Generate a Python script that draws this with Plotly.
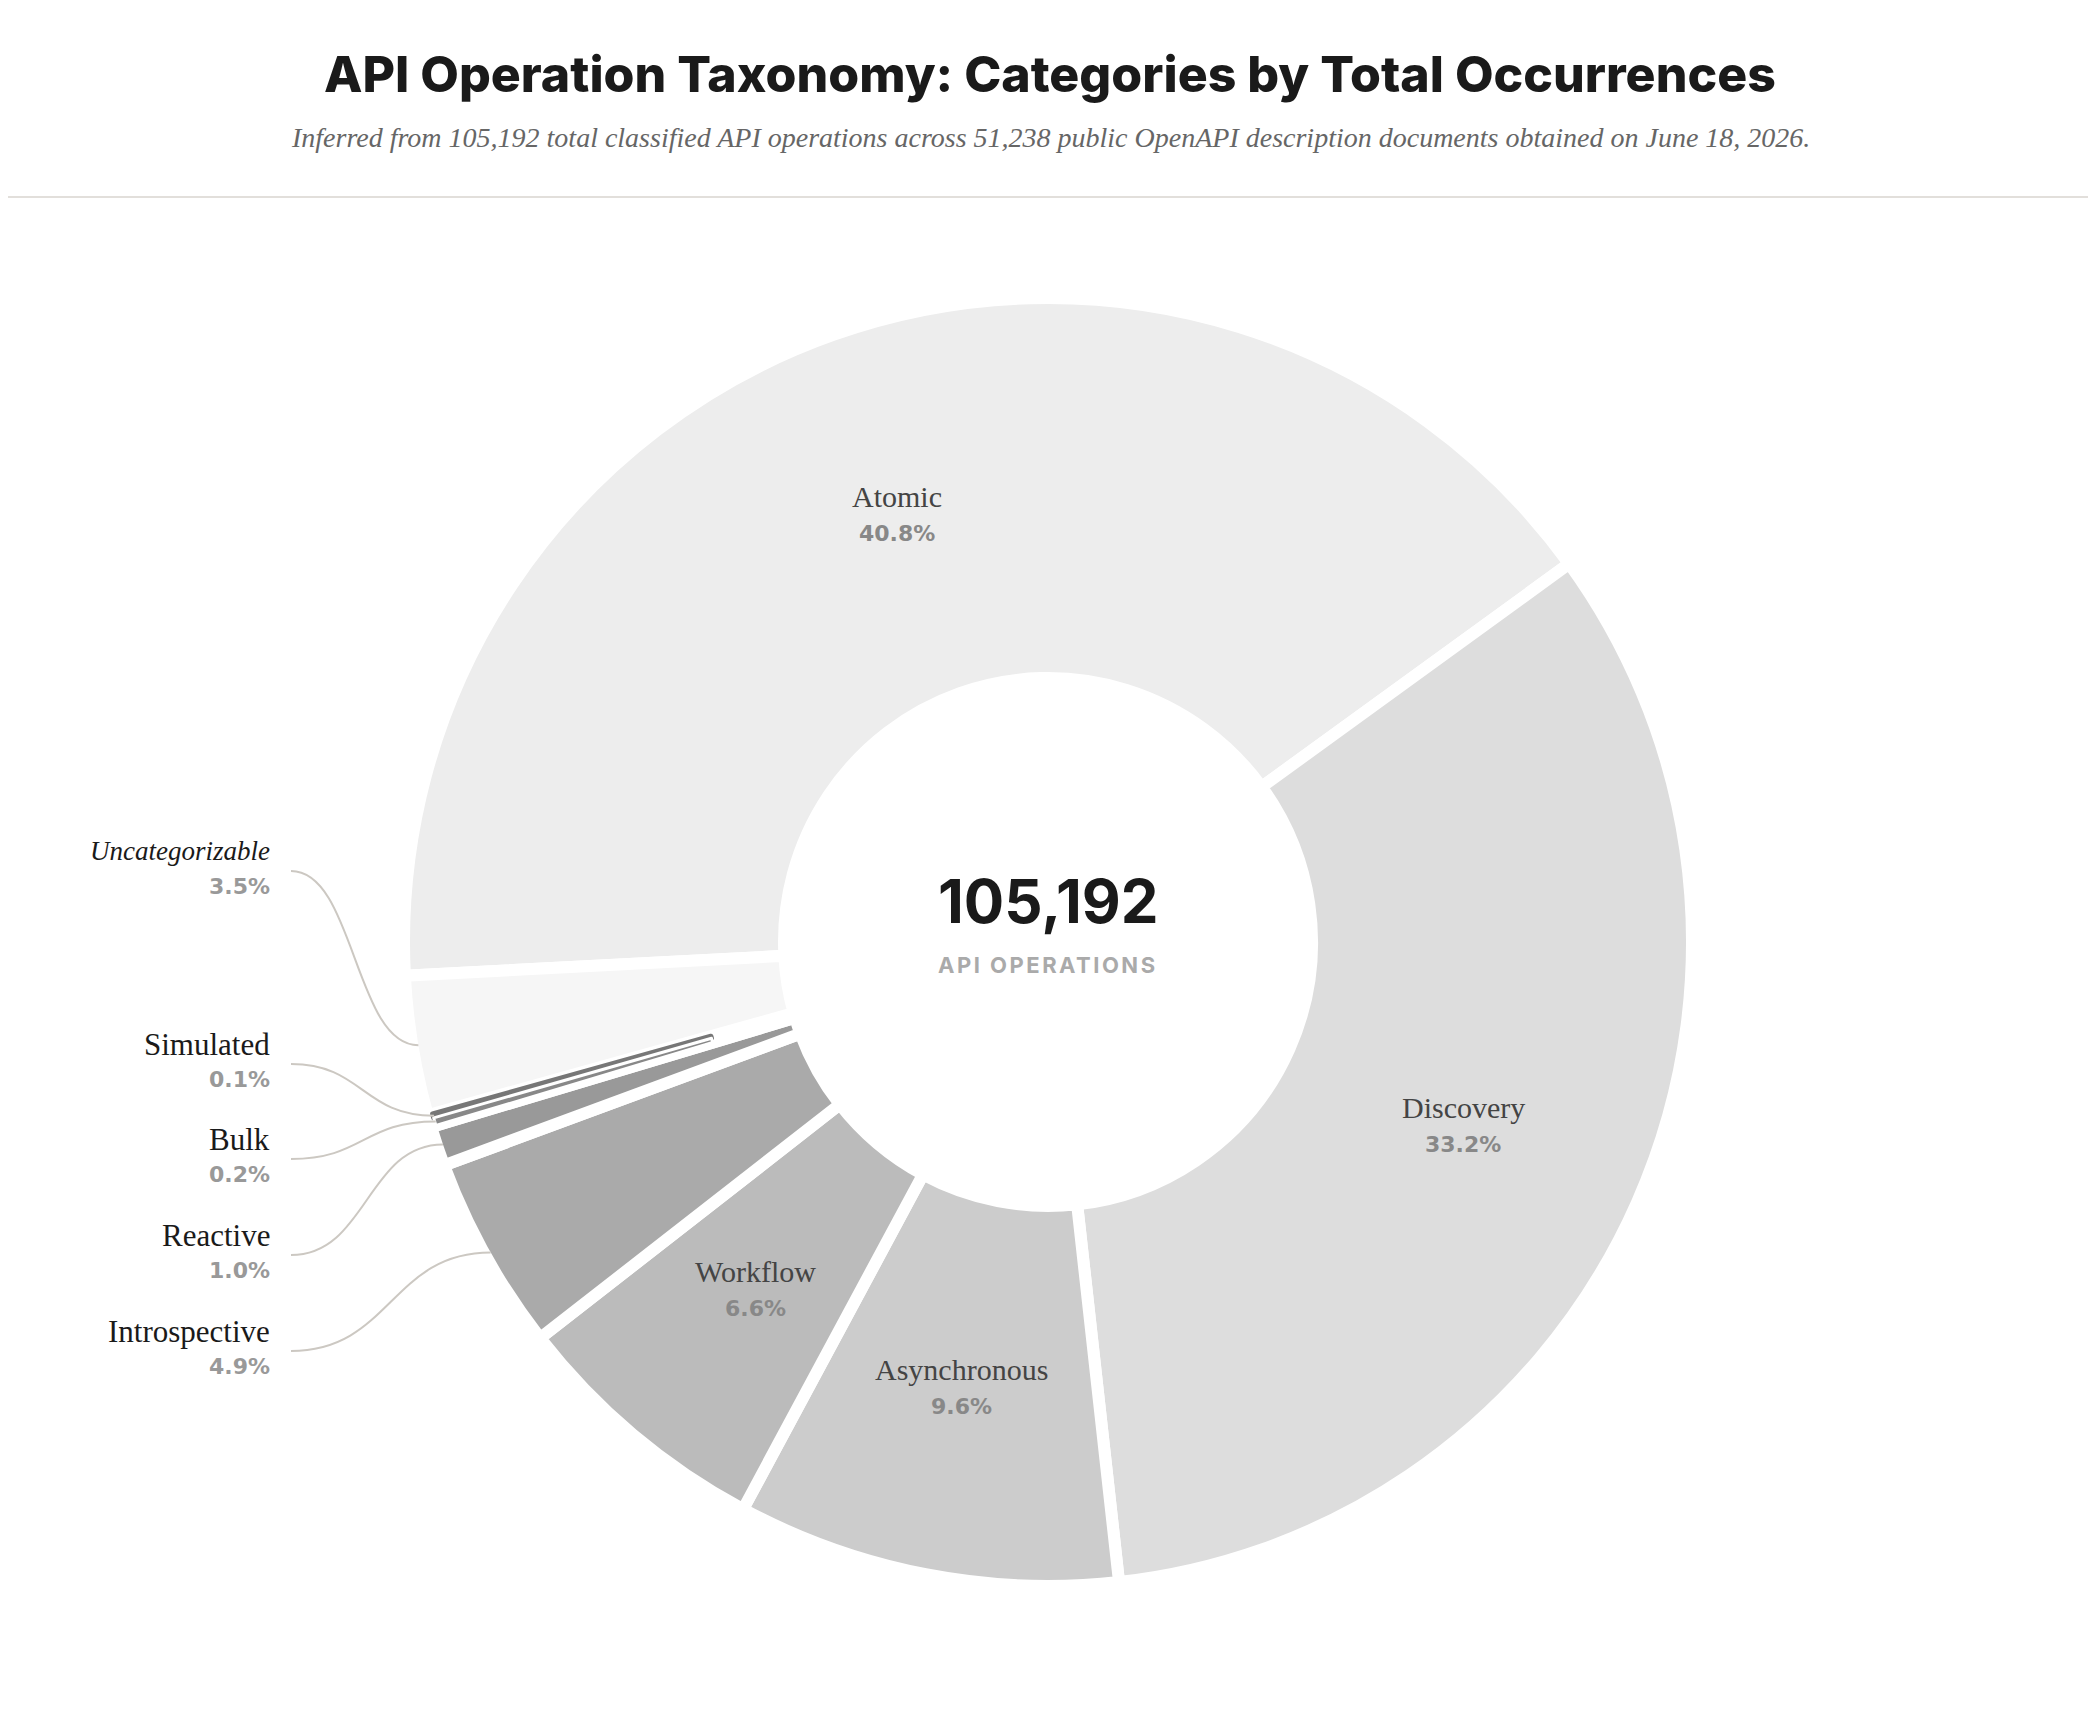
import math
import plotly.graph_objects as go

# ---------------- data ----------------
categories = ["Atomic", "Discovery", "Asynchronous", "Workflow", "Introspective",
              "Reactive", "Bulk", "Simulated", "Uncategorizable"]
shares = [40.8, 33.2, 9.6, 6.6, 4.9, 1.0, 0.2, 0.1, 3.5]
pct_labels = ["40.8%", "33.2%", "9.6%", "6.6%", "4.9%", "1.0%", "0.2%", "0.1%", "3.5%"]
colors = ["#ededed", "#dddddd", "#cccccc", "#bbbbbb", "#aaaaaa",
          "#999999", "#888888", "#777777", "#f6f6f6"]
inside_labels = ["Atomic", "Discovery", "Asynchronous", "Workflow"]
outside_labels = ["Uncategorizable", "Simulated", "Bulk", "Reactive", "Introspective"]
total_text = "105,192"
total_caption = "API OPERATIONS"
title_text = "API Operation Taxonomy: Categories by Total Occurrences"
subtitle_text = ("Inferred from 105,192 total classified API operations across 51,238 public "
                 "OpenAPI description documents obtained on June 18, 2026.")

# ---------------- layout constants (pixels) ----------------
W, H = 2080, 1690
CX, CY = 1040, 934
R_OUT, R_IN = 638, 270
GAP = 12
ROT = 267
LABEL_RIGHT_X = 264
LINE_START_X = 283
outside_name_y = {"Uncategorizable": 843, "Simulated": 1036, "Bulk": 1131,
                  "Reactive": 1227, "Introspective": 1323}

SERIF = "Liberation Serif"
SANS = "Inter"
PCT_FONT = "DejaVu Sans"


def px(x):
    return x / W


def py(y):
    return 1 - y / H


def domain(r):
    return dict(x=[px(CX - r), px(CX + r)], y=[py(CY + r), py(CY - r)])


total = sum(shares)
mid_angles = {}
acc = 0.0
for c, v in zip(categories, shares):
    mid_angles[c] = ROT + (acc + v / 2) / total * 360
    acc += v


def polar(theta, rho):
    t = math.radians(theta)
    return CX + rho * math.sin(t), CY - rho * math.cos(t)


fig = go.Figure()


def pie(r, hole_r, fill, line_colors, line_widths):
    fig.add_trace(go.Pie(
        labels=categories, values=shares, sort=False, direction="clockwise",
        rotation=ROT, hole=hole_r / r, domain=domain(r),
        marker=dict(colors=fill, line=dict(color=line_colors, width=line_widths)),
        textinfo="none", hoverinfo="skip", showlegend=False,
    ))


# main donut with white gaps between slices
r1 = R_OUT + GAP / 2
pie(r1, R_IN - GAP / 2, colors, ["white"] * len(categories), [GAP] * len(categories))

# overlays so the tiniest slices stay visible under the white gaps
clear = "rgba(0,0,0,0)"
r2 = R_OUT + 1
pie(r2, R_IN + 80,
    [col if c == "Simulated" else clear for c, col in zip(categories, colors)],
    [col if c == "Simulated" else clear for c, col in zip(categories, colors)],
    [5 if c == "Simulated" else 0 for c in categories])
pie(r2, R_IN + 80,
    [col if c == "Bulk" else clear for c, col in zip(categories, colors)],
    ["white"] * len(categories),
    [3 if c == "Bulk" else 0 for c in categories])

annotations = []


def ann(text, x, y, size, family, color, xanchor="center", style="normal", weight="normal"):
    annotations.append(dict(
        text=text, x=px(x), y=py(y), xref="paper", yref="paper", showarrow=False,
        xanchor=xanchor, yanchor="middle",
        font=dict(size=size, family=family, color=color, style=style, weight=weight)))


# title / subtitle
ann(title_text, 1042, 66, 50, SANS, "#1a1a1a", weight=800)
ann(subtitle_text, 1042, 130, 28, SERIF, "#666666", style="italic")

# centre text
ann(total_text, CX, 893, 60, SANS, "#1a1a1a", weight="bold")
ann('<span style="letter-spacing:2.5px">' + total_caption + "</span>", CX, 957, 22, SANS, "#aaaaaa",
    weight="bold")

# inside labels
rho_mid = (R_OUT + R_IN) / 2
for c in inside_labels:
    i = categories.index(c)
    x, y = polar(mid_angles[c], rho_mid)
    ann(c, x, y - 18, 30, SERIF, "#444444")
    ann(pct_labels[i], x, y + 19, 22, PCT_FONT, "#888888", weight="bold")

# outside labels with connectors
shapes = []
for c in outside_labels:
    i = categories.index(c)
    yn = outside_name_y[c]
    italic = c == "Uncategorizable"
    ann(c, LABEL_RIGHT_X, yn, 27 if italic else 31, SERIF, "#1a1a1a", xanchor="right",
        style="italic" if italic else "normal")
    ann(pct_labels[i], LABEL_RIGHT_X, yn + 35, 22, PCT_FONT, "#999999", xanchor="right", weight="bold")
    x0, y0 = LINE_START_X, yn + 20
    x1, y1 = polar(mid_angles[c], R_OUT)
    xm = (x0 + x1) / 2
    path = f"M {px(x0)},{py(y0)} C {px(xm)},{py(y0)} {px(xm)},{py(y1)} {px(x1)},{py(y1)}"
    shapes.append(dict(type="path", path=path, xref="paper", yref="paper",
                       line=dict(color="#ccc8c2", width=2)))

# separator line under header
shapes.append(dict(type="line", xref="paper", yref="paper", x0=-0.01, x1=1.01,
                   y0=py(189), y1=py(189), line=dict(color="#e2dfdb", width=2)))

fig.update_layout(
    width=W, height=H, margin=dict(l=0, r=0, t=0, b=0),
    paper_bgcolor="white", plot_bgcolor="white",
    showlegend=False, hovermode=False,
    annotations=annotations, shapes=shapes,
)

fig.write_html("out.html")
